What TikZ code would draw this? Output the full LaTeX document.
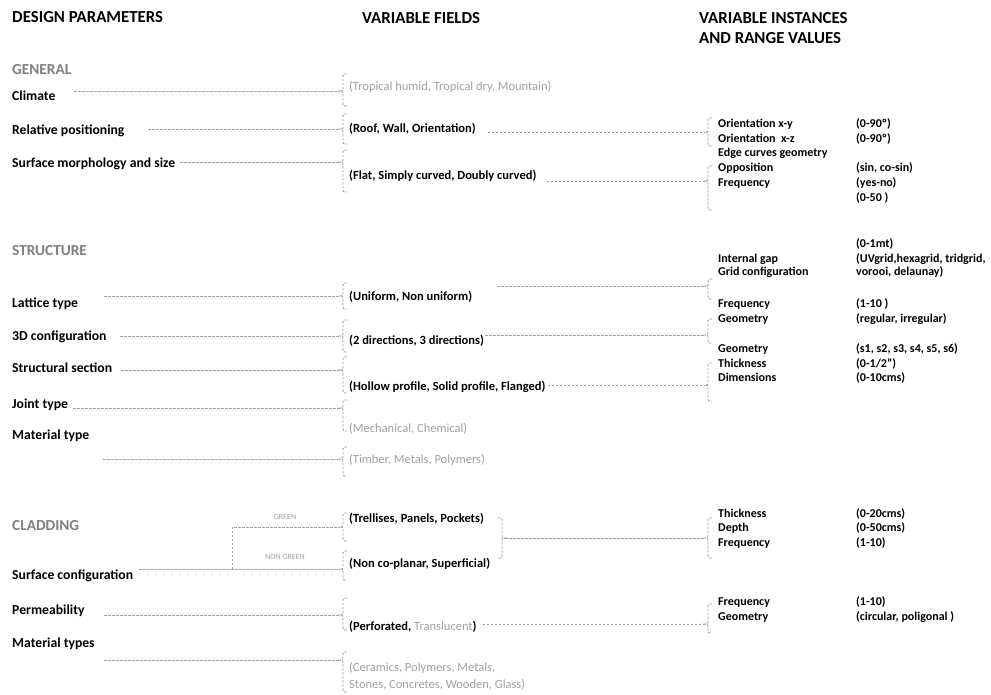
\documentclass[tikz,border=0pt]{standalone}
\usepackage{fontspec}
\setmainfont{Carlito}
\usetikzlibrary{calc}
\definecolor{dashgray}{RGB}{160,160,160}
\definecolor{softgray}{RGB}{160,160,160}
\definecolor{groupgray}{RGB}{128,128,128}
\tikzset{
  head/.style={anchor=base west, inner sep=0pt, align=left, font=\fontsize{16.8}{20}\selectfont\bfseries},
  group/.style={anchor=base west, inner sep=0pt, text=groupgray, font=\fontsize{15.3}{17}\selectfont\bfseries},
  param/.style={anchor=base west, inner sep=0pt, font=\fontsize{13.7}{15}\selectfont\bfseries},
  field/.style={anchor=base west, inner sep=0pt, font=\fontsize{12.5}{15}\selectfont\bfseries},
  fieldoff/.style={anchor=base west, inner sep=0pt, align=left, text=softgray, font=\fontsize{12.5}{17}\selectfont},
  inst/.style={anchor=base west, inner sep=0pt, font=\fontsize{12}{15}\selectfont\bfseries},
  tag/.style={inner sep=0pt, text=softgray, font=\fontsize{8}{9}\selectfont},
  link/.style={draw=dashgray, line width=0.9pt, dash pattern=on 2.5pt off 1.5pt},
}
% brace at a tip: extent up, extent down, side (1 opens right, -1 opens left)
\newcommand{\fieldbrace}[4]{%
  \draw[link] ($(#1)+(#4*7,-#2)$) .. controls ($(#1)+(#4*3,-#2)$) .. ($(#1)+(#4*3,-#2+4)$)
    -- ($(#1)+(#4*3,-3)$) .. controls ($(#1)+(#4*3,0)$) .. (#1)
    .. controls ($(#1)+(#4*3,0)$) .. ($(#1)+(#4*3,3)$)
    -- ($(#1)+(#4*3,#3-4)$) .. controls ($(#1)+(#4*3,#3)$) .. ($(#1)+(#4*7,#3)$);}
\begin{document}
\begin{tikzpicture}[x=1pt,y=-1pt]
\useasboundingbox (0,0) rectangle (991,695);

% column heads
\node[head] (hPar) at (12,23) {DESIGN PARAMETERS};
\node[head] (hFld) at (362,24) {VARIABLE FIELDS};
\node[head] (hIns) at (699,44) {VARIABLE INSTANCES\\AND RANGE VALUES};

% GENERAL
\node[group] (gGen) at (12,75) {GENERAL};
\node[param] (pCl) at (12,101) {Climate};
\node[param] (pRp) at (12,135) {Relative positioning};
\node[param] (pSm) at (12,168) {Surface morphology and size};

\coordinate (sCl) at (74,91);  \coordinate (bCl) at (340,91);
\coordinate (sRp) at (148,129); \coordinate (bRp) at (340,129);
\coordinate (sSm) at (180,162); \coordinate (bSm) at (340,162);
\fieldbrace{bCl}{17}{15}{1}
\fieldbrace{bRp}{15}{15}{1}
\fieldbrace{bSm}{12}{30}{1}
\draw[link] (sCl) -- (bCl);
\draw[link] (sRp) -- (bRp);
\draw[link] (sSm) -- (bSm);

\node[fieldoff] (fCl) at (349,91) {(Tropical humid, Tropical dry, Mountain)};
\node[field] (fRp) at (349,133) {(Roof, Wall, Orientation)};
\node[field] (fSm) at (349,180) {(Flat, Simply curved, Doubly curved)};

\coordinate (rRp) at (705,132);
\coordinate (rSm) at (705,181);
\fieldbrace{rRp}{14}{14}{1}
\fieldbrace{rSm}{15}{29}{1}
\draw[link, shorten <=12pt] (fRp.east |- rRp) -- (rRp);
\draw[link, shorten <=10pt] (fSm.east |- rSm) -- (rSm);

\foreach \y/\t [count=\i] in {128/Orientation x-y, 143/Orientation\ \ x-z,
    157/Edge curves geometry, 172/Opposition, 187/Frequency}
  \node[inst] (iG\i) at (718,\y) {\t};
\foreach \y/\t [count=\i] in {128/(0-90º), 143/(0-90º), 172/{(sin, co-sin)},
    187/(yes-no), 202/(0-50 )}
  \node[inst] (vG\i) at (856,\y) {\t};

% STRUCTURE
\node[group] (gStr) at (12,255) {STRUCTURE};
\node[param] (pLt) at (12,307) {Lattice type};
\node[param] (p3d) at (12,340) {3D configuration};
\node[param] (pSs) at (12,372) {Structural section};
\node[param] (pJt) at (12,408) {Joint type};
\node[param] (pMt) at (12,439) {Material type};

\coordinate (sLt) at (104,296); \coordinate (bLt) at (340,296);
\coordinate (s3d) at (120,336); \coordinate (b3d) at (340,336);
\coordinate (sSs) at (121,370); \coordinate (bSs) at (340,370);
\coordinate (sJt) at (73,408);  \coordinate (bJt) at (340,408);
\coordinate (sMt) at (103,459); \coordinate (bMt) at (340,459);
\fieldbrace{bLt}{13}{13}{1}
\fieldbrace{b3d}{16}{16}{1}
\fieldbrace{bSs}{13}{23}{1}
\fieldbrace{bJt}{8}{23}{1}
\fieldbrace{bMt}{12}{17}{1}
\draw[link] (sLt) -- (bLt);
\draw[link] (s3d) -- (b3d);
\draw[link] (sSs) -- (bSs);
\draw[link] (sJt) -- (bJt);
\draw[link] (sMt) -- (bMt);

\node[field] (fLt) at (349,300) {(Uniform, Non uniform)};
\node[field] (f3d) at (349,344) {(2 directions, 3 directions)};
\node[field] (fSs) at (349,390) {(Hollow profile, Solid profile, Flanged)};
\node[fieldoff] (fJt) at (349,432) {(Mechanical, Chemical)};
\node[fieldoff] (fMt) at (349,463) {(Timber, Metals, Polymers)};

\coordinate (rLt) at (705,286);
\coordinate (r3d) at (705,335);
\coordinate (rSs) at (705,385);
\fieldbrace{rLt}{7}{13}{1}
\fieldbrace{r3d}{16}{8}{1}
\fieldbrace{rSs}{22}{16}{1}
\draw[link, shorten <=25pt] (fLt.east |- rLt) -- (rLt);
\draw[link, shorten <=1pt] (f3d.east |- r3d) -- (r3d);
\draw[link, shorten <=2pt] (fSs.east |- rSs) -- (rSs);

\foreach \y/\t [count=\i] in {262/Internal gap, 276/Grid configuration, 307/Frequency,
    322/Geometry, 352/Geometry, 367/Thickness, 381/Dimensions}
  \node[inst] (iS\i) at (718,\y) {\t};
\foreach \y/\t [count=\i] in {248/(0-1mt), 262/{(UVgrid,hexagrid, tridgrid,}, 276/{vorooi, delaunay)},
    307/(1-10 ), 322/{(regular, irregular)}, 352/{(s1, s2, s3, s4, s5, s6)},
    367/{(0-1/2”)}, 381/(0-10cms)}
  \node[inst] (vS\i) at (856,\y) {\t};

% CLADDING
\node[group] (gCld) at (12,530) {CLADDING};
\node[param] (pSc) at (12,579) {Surface configuration};
\node[param] (pPm) at (12,614) {Permeability};
\node[param] (pMs) at (12,647) {Material types};

\coordinate (sSc) at (139,569); \coordinate (jSc) at (232,569);
\coordinate (jSg) at (232,527);
\coordinate (bSg) at (340,527); \coordinate (bSn) at (340,569);
\coordinate (sPm) at (104,615); \coordinate (bPm) at (340,615);
\coordinate (sMs) at (104,660); \coordinate (bMs) at (340,660);
\fieldbrace{bSg}{14}{14}{1}
\fieldbrace{bSn}{18}{11}{1}
\fieldbrace{bPm}{17}{15}{1}
\fieldbrace{bMs}{8}{32}{1}
\draw[link] (sSc) -- (bSn);
\draw[link] (jSc) -- (jSg) -- (bSg);
\draw[link] (sPm) -- (bPm);
\draw[link] (sMs) -- (bMs);
\node[tag] (tGr) at (285,517) {GREEN};
\node[tag] (tNg) at (285,557) {NON GREEN};

\node[field] (fSg) at (349,522) {(Trellises, Panels, Pockets)};
\node[field] (fSn) at (349,567) {(Non co-planar, Superficial)};
\node[field] (fPm) at (349,630) {(Perforated, {\mdseries\color{softgray}Translucent})};
\node[fieldoff] (fMs) at (349,688) {(Ceramics, Polymers, Metals,\\Stones, Concretes, Wooden, Glass)};

\coordinate (cSc) at (505,538);
\coordinate (rSc) at (705,538);
\coordinate (rPm) at (705,624);
\fieldbrace{cSc}{20}{20}{-1}
\fieldbrace{rSc}{20}{20}{1}
\fieldbrace{rPm}{20}{9}{1}
\draw[link] (cSc) -- (rSc);
\draw[link, shorten <=6pt] (fPm.east |- rPm) -- (rPm);

\foreach \y/\t [count=\i] in {517/Thickness, 531/Depth, 546/Frequency, 605/Frequency, 620/Geometry}
  \node[inst] (iC\i) at (718,\y) {\t};
\foreach \y/\t [count=\i] in {517/(0-20cms), 531/(0-50cms), 546/(1-10), 605/(1-10), 620/{(circular, poligonal )}}
  \node[inst] (vC\i) at (856,\y) {\t};
\end{tikzpicture}
\end{document}
